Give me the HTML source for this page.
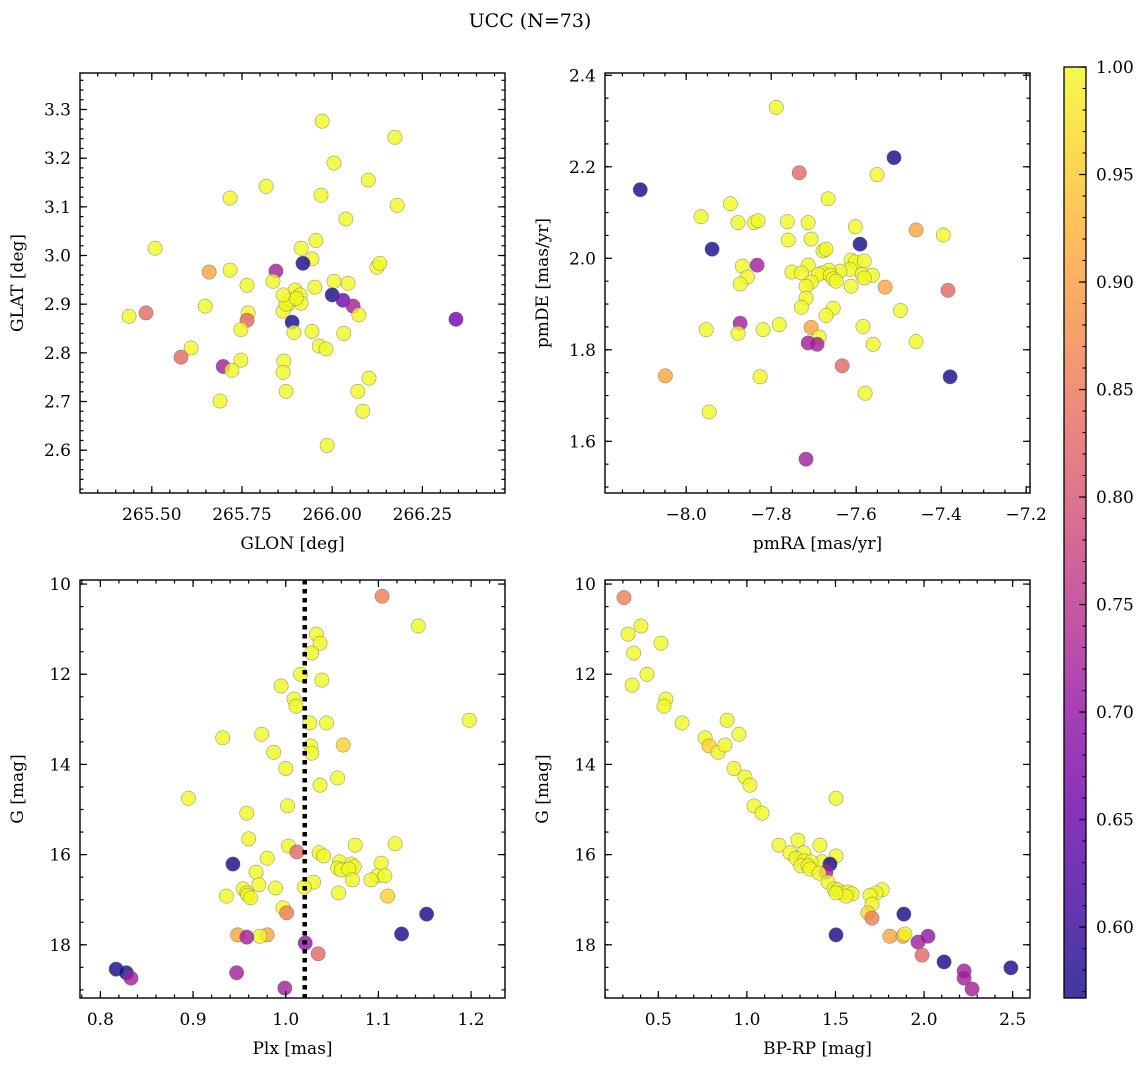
<!DOCTYPE html>
<html><head><meta charset="utf-8">
<style>
html,body{margin:0;padding:0;background:#fff;}
svg{display:block;font-family:"DejaVu Serif","Liberation Serif",serif;}
</style></head>
<body>
<svg id="fig" width="1148" height="1067" viewBox="0 0 1148 1067" xmlns="http://www.w3.org/2000/svg">
<rect width="1148" height="1067" fill="#fff"/>
<text x="530" y="27" font-size="19" text-anchor="middle">UCC (N=73)</text>
</svg>
<script>
// ---- data: top-left GLON/GLAT
const glon=[265.972,266.174,266.005,266.100,265.817,265.969,265.717,266.180,266.038,265.509,265.914,265.955,265.944,265.919,265.659,265.717,265.844,266.124,266.132,266.005,266.044,265.764,265.836,266.000,266.030,266.058,265.897,265.911,265.883,265.914,265.878,265.864,265.872,265.648,265.900,266.074,265.767,265.764,265.437,265.484,266.343,265.889,265.894,265.747,265.944,266.032,265.964,265.983,265.609,265.581,265.747,265.866,265.698,265.722,265.864,266.102,266.071,265.872,265.689,266.085,265.986,265.952,265.864];
const glat=[3.276,3.243,3.190,3.155,3.142,3.124,3.118,3.103,3.075,3.015,3.015,3.031,2.993,2.984,2.966,2.970,2.968,2.976,2.984,2.947,2.943,2.939,2.947,2.919,2.908,2.896,2.929,2.919,2.908,2.902,2.900,2.886,2.900,2.896,2.912,2.878,2.882,2.867,2.875,2.882,2.869,2.863,2.842,2.848,2.844,2.840,2.814,2.808,2.810,2.791,2.785,2.783,2.772,2.764,2.760,2.748,2.721,2.721,2.701,2.680,2.610,2.935,2.919];
const probTL=[1,1,1,1,1,1,1,1,1,1,1,1,1,0.57,0.91,1,0.72,1,1,1,1,1,1,0.57,0.66,0.72,1,1,1,1,1,1,1,1,1,1,1,0.83,1,0.83,0.66,0.57,1,1,1,1,1,1,1,0.83,1,1,0.72,1,1,1,1,1,1,1,1,1,1];
// ---- data: top-right pmRA/pmDE
const pmra=[-7.788,-7.511,-8.108,-7.734,-7.551,-7.896,-7.666,-7.965,-7.878,-7.840,-7.831,-7.762,-7.713,-7.602,-7.459,-7.395,-7.706,-7.760,-7.591,-7.678,-7.868,-7.833,-7.939,-7.671,-7.612,-7.602,-7.581,-7.614,-7.638,-7.713,-7.664,-7.680,-7.586,-7.562,-7.751,-7.729,-7.689,-7.661,-7.706,-7.654,-7.581,-7.856,-7.612,-7.532,-7.384,-7.718,-7.647,-7.873,-7.718,-7.654,-7.729,-7.496,-7.671,-7.781,-7.873,-7.706,-7.819,-7.878,-7.953,-7.584,-7.687,-7.713,-7.692,-7.459,-7.560,-7.633,-8.049,-7.826,-7.379,-7.579,-7.946,-7.718];
const pmde=[2.330,2.220,2.150,2.187,2.183,2.119,2.130,2.091,2.078,2.078,2.082,2.080,2.078,2.069,2.062,2.051,2.042,2.040,2.031,2.016,1.983,1.985,2.020,2.020,1.996,1.992,1.994,1.976,1.972,1.985,1.974,1.968,1.965,1.963,1.970,1.968,1.965,1.963,1.948,1.955,1.957,1.959,1.939,1.937,1.930,1.939,1.950,1.944,1.913,1.891,1.893,1.886,1.875,1.855,1.858,1.849,1.844,1.836,1.844,1.851,1.828,1.815,1.812,1.818,1.812,1.765,1.743,1.741,1.741,1.705,1.664,1.561];
const probTR=[1,0.57,0.57,0.83,1,1,1,1,1,1,1,1,1,1,0.91,1,1,1,0.57,1,1,0.72,0.57,1,1,1,1,1,1,1,1,1,1,1,1,1,1,1,1,1,1,1,1,0.91,0.83,1,1,1,1,1,1,1,1,1,0.72,0.91,1,1,1,1,1,0.72,0.72,1,1,0.83,0.91,1,0.57,1,1,0.72];
// ---- data: bottom-left Plx/G
const plx=[1.104,1.143,1.033,1.037,1.028,1.016,1.039,0.995,1.009,1.011,1.198,1.026,1.044,0.932,0.974,1.027,1.062,0.987,1.028,1.000,1.037,0.895,0.958,1.002,1.056,0.960,1.003,1.075,1.118,1.012,1.036,1.041,0.980,1.058,1.071,1.056,1.074,1.060,1.103,0.943,1.068,1.099,0.968,1.072,1.092,1.107,0.971,0.954,1.030,1.020,0.989,0.958,0.959,0.962,0.936,1.057,1.110,0.997,1.152,1.001,0.948,0.980,0.972,0.958,1.035,1.021,1.125,0.817,0.828,0.833,0.947,0.999];
const gBL=[10.27,10.93,11.11,11.31,11.53,12.00,12.13,12.26,12.55,12.71,13.02,13.08,13.08,13.41,13.33,13.59,13.57,13.73,13.75,14.09,14.46,14.75,15.08,14.92,14.30,15.65,15.81,15.79,15.76,15.94,15.96,16.03,16.08,16.16,16.21,16.30,16.27,16.34,16.19,16.21,16.32,16.47,16.39,16.56,16.56,16.47,16.67,16.76,16.61,16.72,16.74,16.85,16.90,16.96,16.92,16.85,16.92,17.18,17.32,17.29,17.78,17.78,17.81,17.83,18.20,17.96,17.76,18.54,18.62,18.74,18.62,18.96];
const probBL=[0.86,1,1,1,1,1,1,1,1,1,1,1,1,1,1,1,0.96,1,1,1,1,1,1,1,1,1,1,1,1,0.83,1,1,1,1,1,1,1,1,1,0.57,1,1,1,1,1,1,1,1,1,1,1,1,1,1,1,1,0.96,1,0.57,0.86,0.91,0.91,1,0.72,0.83,0.7,0.57,0.57,0.57,0.72,0.72,0.72];
const plxLine=1.0205;
// ---- data: bottom-right BP-RP/G
const bprp=[0.306,0.402,0.329,0.361,0.436,0.352,0.515,0.543,0.532,0.634,0.888,0.764,0.955,0.786,0.837,0.876,0.927,0.989,1.017,1.040,1.085,1.503,1.181,1.288,1.412,1.243,1.322,1.277,1.322,1.423,1.503,1.362,1.305,1.345,1.356,1.469,1.446,1.407,1.458,1.492,1.514,1.537,1.571,1.594,1.560,1.503,1.763,1.729,1.695,1.706,1.683,1.886,1.706,1.503,1.807,1.881,1.892,1.966,2.022,1.989,2.113,2.226,2.226,2.271,2.490];
const gBR=[10.30,10.93,11.11,11.53,12.00,12.24,11.31,12.55,12.71,13.08,13.02,13.41,13.33,13.59,13.73,13.57,14.09,14.28,14.46,14.92,15.08,14.75,15.79,15.68,15.79,15.96,15.96,16.08,16.14,16.16,16.03,16.16,16.25,16.25,16.32,16.21,16.39,16.41,16.61,16.76,16.78,16.85,16.83,16.87,16.92,16.85,16.78,16.85,16.90,17.10,17.29,17.32,17.41,17.78,17.81,17.81,17.76,17.94,17.81,18.23,18.38,18.58,18.74,18.98,18.51];
const probBR=[0.86,1,1,1,1,1,1,1,1,1,1,1,1,0.96,1,1,1,1,1,1,1,1,1,1,1,1,1,1,1,1,1,1,1,1,1,0.57,0.72,1,1,1,1,1,1,1,1,1,1,1,1,1,0.96,0.57,0.86,0.57,0.91,0.91,1,0.72,0.7,0.83,0.57,0.72,0.72,0.72,0.57];
// ---- colorbar ticks
const cbTicks=[0.60,0.65,0.70,0.75,0.80,0.85,0.90,0.95,1.00];
const vmin=0.567, vmax=1.0;

const NS="http://www.w3.org/2000/svg";
const svg=document.getElementById('fig');
function mk(tag,attrs,parent){const e=document.createElementNS(NS,tag);for(const k in attrs)e.setAttribute(k,attrs[k]);(parent||svg).appendChild(e);return e;}
const plasma=[[13,8,135],[65,4,157],[106,0,168],[143,13,164],[177,42,144],[204,71,120],[225,100,98],[242,132,75],[252,166,54],[252,206,37],[240,249,33]];
function cmap(v){let t=(v-vmin)/(vmax-vmin);t=Math.max(0,Math.min(1,t));const f=t*10,i=Math.min(9,Math.floor(f)),r=f-i;const a=plasma[i],b=plasma[i+1];return 'rgb('+[0,1,2].map(k=>Math.round(a[k]+(b[k]-a[k])*r)).join(',')+')';}
function fmt(v,d){return (v<0?'\u2212':'')+Math.abs(v).toFixed(d);}
const TF=17, LF=17;

function panel(o){
  const g=mk('g',{});
  
  
  const X=v=>o.x0+(v-o.xmin)/(o.xmax-o.xmin)*o.w;
  const Y=o.inv?(v=>o.y0+(v-o.ymin)/(o.ymax-o.ymin)*o.h):(v=>o.y0+o.h-(v-o.ymin)/(o.ymax-o.ymin)*o.h);
  const pts=mk('g',{},g);
  
  
  for(let i=0;i<o.xs.length;i++){
    const c=mk('circle',{cx:X(o.xs[i]),cy:Y(o.ys[i]),r:7.2,fill:cmap(o.p[i]),'fill-opacity':0.8,stroke:'#666','stroke-width':0.5,'stroke-opacity':0.8},pts);
    
    
  }
  if(o.vline!==undefined){const l=mk('line',{x1:X(o.vline),x2:X(o.vline),y1:o.y0,y2:o.y0+o.h,stroke:'#000','stroke-width':4.5,'stroke-dasharray':'4.5,4.5'},g);
    
    }
  mk('rect',{x:o.x0,y:o.y0,width:o.w,height:o.h,fill:'none',stroke:'#000','stroke-width':1.4},g);
  const eps=1e-9;
  function xt(step,len,lab){const s=Math.ceil((o.xmin-eps)/step);for(let k=s;k*step<=o.xmax+eps;k++){const v=k*step,x=X(v);
    mk('line',{x1:x,x2:x,y1:o.y0+o.h,y2:o.y0+o.h-len,stroke:'#000','stroke-width':1.2},g);
    mk('line',{x1:x,x2:x,y1:o.y0,y2:o.y0+len,stroke:'#000','stroke-width':1.2},g);
    if(lab){const t=mk('text',{x:x,y:o.y0+o.h+27,'font-size':TF,'text-anchor':'middle'},g);t.textContent=fmt(v,o.xd);
      }}}
  function yt(step,len,lab){const lo=Math.min(o.ymin,o.ymax),hi=Math.max(o.ymin,o.ymax);const s=Math.ceil((lo-eps)/step);for(let k=s;k*step<=hi+eps;k++){const v=k*step,y=Y(v);
    mk('line',{x1:o.x0,x2:o.x0+len,y1:y,y2:y,stroke:'#000','stroke-width':1.2},g);
    mk('line',{x1:o.x0+o.w,x2:o.x0+o.w-len,y1:y,y2:y,stroke:'#000','stroke-width':1.2},g);
    if(lab){const t=mk('text',{x:o.x0-9,y:y+6,'font-size':TF,'text-anchor':'end'},g);t.textContent=fmt(v,o.yd);
      }}}
  xt(o.xminor,3.5,false);xt(o.xmajor,7,true);yt(o.yminor,3.5,false);yt(o.ymajor,7,true);
  const xl=mk('text',{x:o.x0+o.w/2,y:o.y0+o.h+56,'font-size':LF,'text-anchor':'middle'},g);xl.textContent=o.xlabel;
  
  const cx=o.x0-57,cy=o.y0+o.h/2;
  const yl=mk('text',{x:cx,y:cy,'font-size':LF,'text-anchor':'middle',transform:'rotate(-90 '+cx+' '+cy+')'},g);yl.textContent=o.ylabel;
  
}

panel({name:'glon-glat-panel',x0:80,y0:73,w:425,h:420,xmin:265.301,xmax:266.479,ymin:2.512,ymax:3.375,xmajor:0.25,xminor:0.05,ymajor:0.1,yminor:0.02,xd:2,yd:1,xs:glon,ys:glat,p:probTL,xlabel:'GLON [deg]',ylabel:'GLAT [deg]'});
panel({name:'pm-panel',x0:605,y0:73,w:425,h:420,xmin:-8.191,xmax:-7.191,ymin:1.487,ymax:2.405,xmajor:0.2,xminor:0.05,ymajor:0.2,yminor:0.05,xd:1,yd:1,xs:pmra,ys:pmde,p:probTR,xlabel:'pmRA [mas/yr]',ylabel:'pmDE [mas/yr]'});
panel({name:'plx-g-panel',x0:80,y0:580,w:425,h:418,xmin:0.778,xmax:1.2366,ymin:9.91,ymax:19.18,inv:true,xmajor:0.1,xminor:0.02,ymajor:2,yminor:0.5,xd:1,yd:0,xs:plx,ys:gBL,p:probBL,vline:plxLine,xlabel:'Plx [mas]',ylabel:'G [mag]'});
panel({name:'cmd-panel',x0:605,y0:580,w:425,h:418,xmin:0.199,xmax:2.598,ymin:9.91,ymax:19.18,inv:true,xmajor:0.5,xminor:0.1,ymajor:2,yminor:0.5,xd:1,yd:0,xs:bprp,ys:gBR,p:probBR,xlabel:'BP-RP [mag]',ylabel:'G [mag]'});

// colorbar
(function(){
  const x0=1064,y0=67,w=22,h=931;
  const cb=mk('g',{});
  
  
  const defs=mk('defs',{},cb);
  const lg=mk('linearGradient',{id:'cbg',x1:0,y1:1,x2:0,y2:0},defs);
  for(let i=0;i<=20;i++){const v=vmin+(vmax-vmin)*i/20;mk('stop',{offset:(i/20),'stop-color':cmap(v),'stop-opacity':0.8},lg);}
  mk('rect',{x:x0,y:y0,width:w,height:h,fill:'url(#cbg)'},cb);
  mk('rect',{x:x0,y:y0,width:w,height:h,fill:'none',stroke:'#000','stroke-width':1.3},cb);
  const Yc=v=>y0+h-(v-vmin)/(vmax-vmin)*h;
  for(let k=57;k<=100;k++){const y=Yc(k/100);mk('line',{x1:x0+w,x2:x0+w-3.5,y1:y,y2:y,stroke:'#000','stroke-width':1.1},cb);}
  cbTicks.forEach(v=>{const y=Yc(v);mk('line',{x1:x0+w,x2:x0+w-7,y1:y,y2:y,stroke:'#000','stroke-width':1.2},cb);
    const t=mk('text',{x:x0+w+10,y:y+6,'font-size':TF},cb);t.textContent=v.toFixed(2);
    });
})();
</script>
</body></html>
